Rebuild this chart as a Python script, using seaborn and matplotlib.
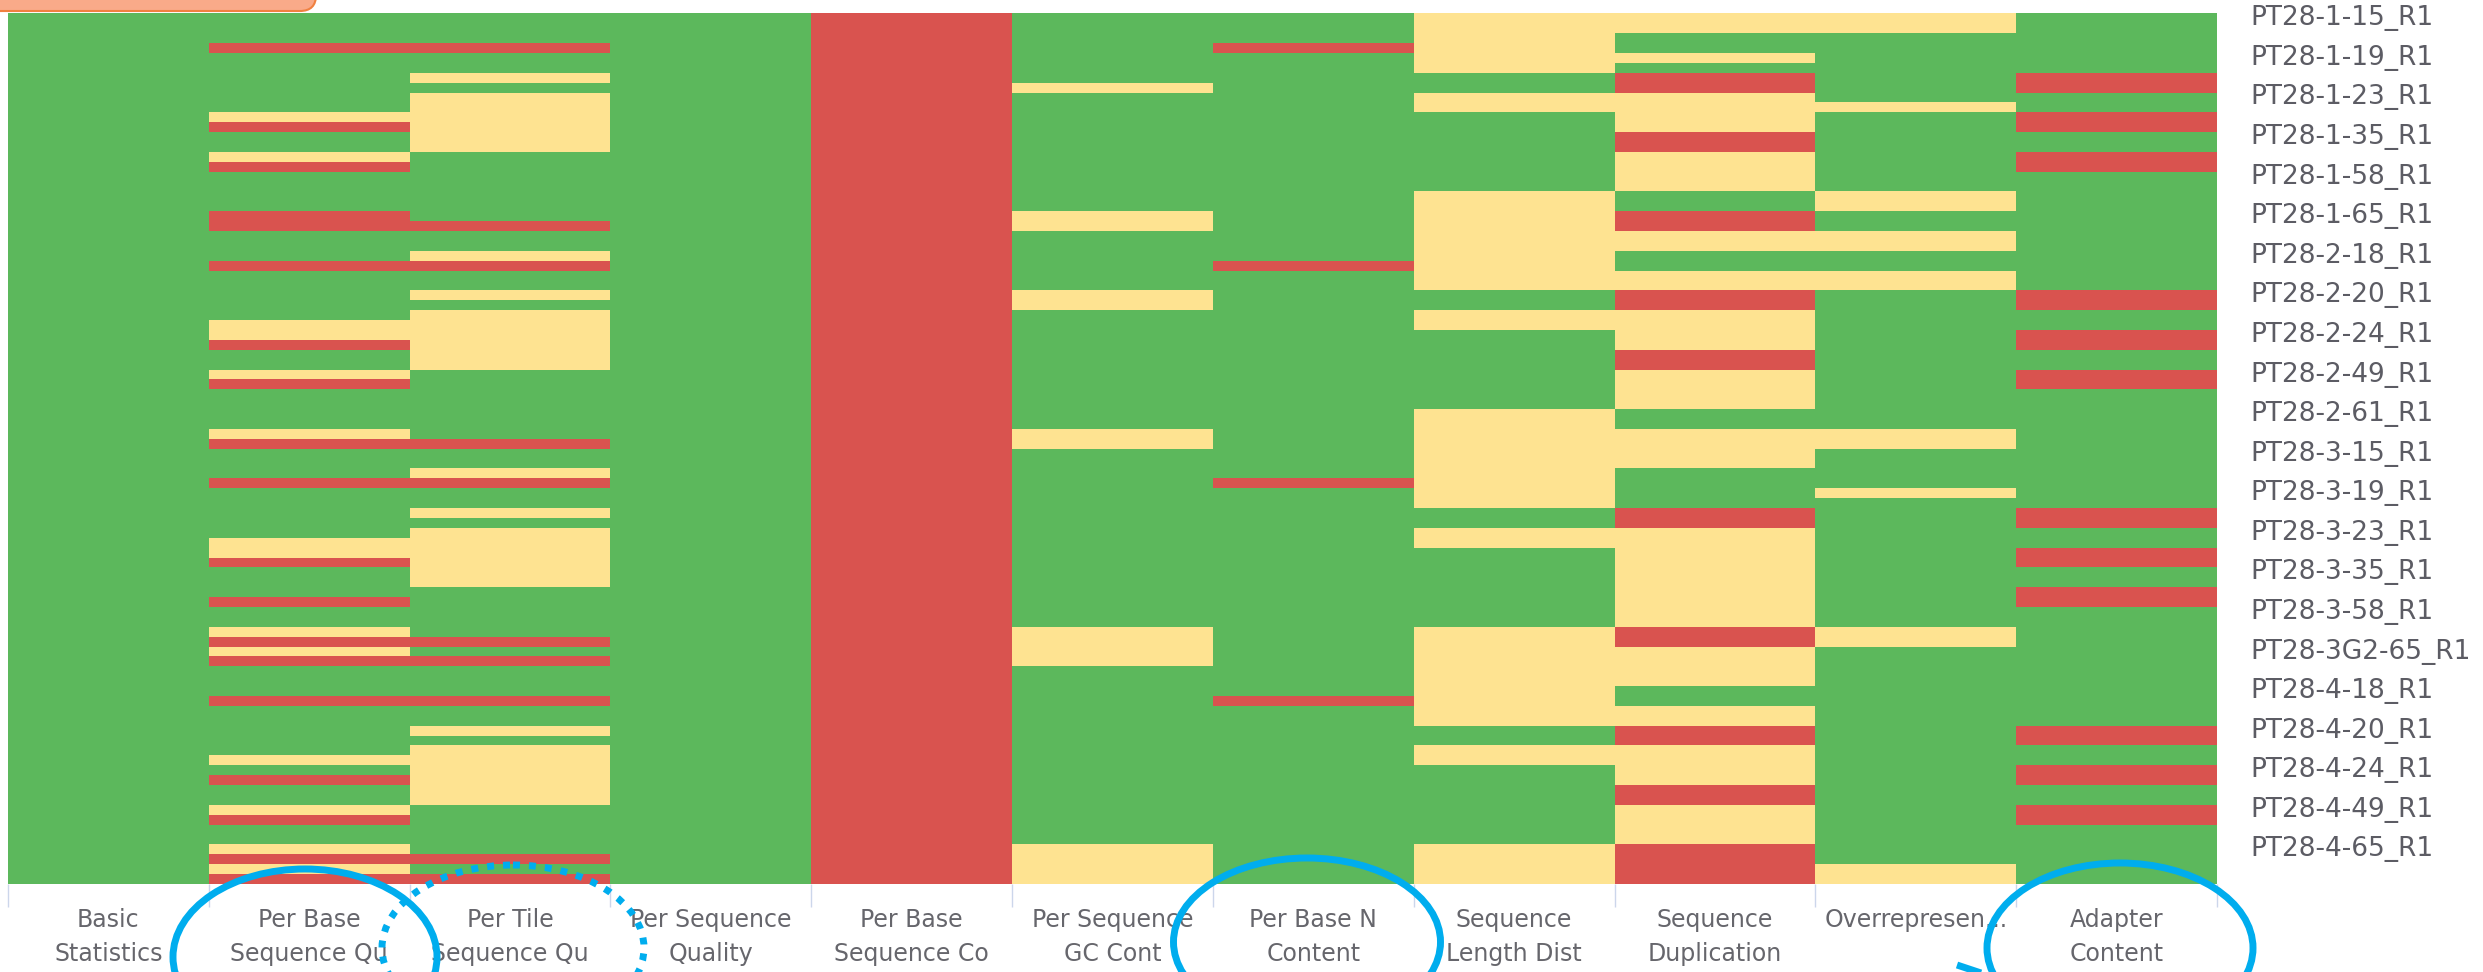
import numpy as np
import pandas as pd
import matplotlib
matplotlib.use("Agg")
import matplotlib.pyplot as plt
from matplotlib.colors import ListedColormap
from matplotlib.patches import Ellipse, FancyBboxPatch
import seaborn as sns

# FastQC module names (column headers, truncated as in the report)
modules = [
    "Basic\nStatistics", "Per Base\nSequence Qu", "Per Tile\nSequence Qu",
    "Per Sequence\nQuality", "Per Base\nSequence Co", "Per Sequence\nGC Cont",
    "Per Base N\nContent", "Sequence\nLength Dist", "Sequence\nDuplication",
    "Overrepresen...", "Adapter\nContent",
]

# Sample names shown on the right (one label every fourth row)
sample_labels = [
    "PT28-1-15_R1", "PT28-1-19_R1", "PT28-1-23_R1", "PT28-1-35_R1",
    "PT28-1-58_R1", "PT28-1-65_R1", "PT28-2-18_R1", "PT28-2-20_R1",
    "PT28-2-24_R1", "PT28-2-49_R1", "PT28-2-61_R1", "PT28-3-15_R1",
    "PT28-3-19_R1", "PT28-3-23_R1", "PT28-3-35_R1", "PT28-3-58_R1",
    "PT28-3G2-65_R1", "PT28-4-18_R1", "PT28-4-20_R1", "PT28-4-24_R1",
    "PT28-4-49_R1", "PT28-4-65_R1",
]
n_rows = 88
label_step = 4

# Status of each module for most samples
default_status = ["pass", "pass", "pass", "pass", "fail", "pass",
                  "pass", "pass", "pass", "pass", "pass"]

# Rows that deviate from the default, per module
per_base_qual_warn = [10, 14, 31, 32, 36, 42, 53, 54, 62, 64, 75, 80, 84, 86]
per_base_qual_fail = [3, 11, 15, 20, 21, 25, 33, 37, 43, 47, 55, 59, 63, 65,
                      69, 77, 81, 85, 87]
per_tile_warn = [6, 8, 9, 10, 11, 12, 13, 24, 28, 30, 31, 32, 33, 34, 35, 46,
                 50, 52, 53, 54, 55, 56, 57, 72, 74, 75, 76, 77, 78, 79]
per_tile_fail = [3, 21, 25, 43, 47, 63, 65, 69, 85, 87]
gc_content_warn = [7, 20, 21, 28, 29, 42, 43, 62, 63, 64, 65, 84, 85, 86, 87]
n_content_fail = [3, 25, 47, 69]
length_dist_warn = [0, 1, 2, 3, 4, 5, 8, 9, 18, 19, 20, 21, 22, 23, 24, 25,
                    26, 27, 30, 31, 40, 41, 42, 43, 44, 45, 46, 47, 48, 49,
                    52, 53, 62, 63, 64, 65, 66, 67, 68, 69, 70, 71, 74, 75,
                    84, 85, 86, 87]
duplication_warn = [0, 1, 4, 8, 9, 10, 11, 14, 15, 16, 17, 22, 23, 26, 27,
                    30, 31, 32, 33, 36, 37, 38, 39, 42, 43, 44, 45, 52, 53,
                    54, 55, 56, 57, 58, 59, 60, 61, 64, 65, 66, 67, 70, 71,
                    74, 75, 76, 77, 80, 81, 82, 83]
duplication_fail = [6, 7, 12, 13, 20, 21, 28, 29, 34, 35, 50, 51, 62, 63,
                    72, 73, 78, 79, 84, 85, 86, 87]
overrep_warn = [0, 1, 9, 18, 19, 22, 23, 26, 27, 42, 43, 48, 62, 63, 86, 87]
adapter_fail = [6, 7, 10, 11, 14, 15, 28, 29, 32, 33, 36, 37, 50, 51, 54, 55,
                58, 59, 72, 73, 76, 77, 80, 81]

exceptions = {
    1: (per_base_qual_warn, per_base_qual_fail),
    2: (per_tile_warn, per_tile_fail),
    5: (gc_content_warn, []),
    6: ([], n_content_fail),
    7: (length_dist_warn, []),
    8: (duplication_warn, duplication_fail),
    9: (overrep_warn, []),
    10: ([], adapter_fail),
}

code = {"fail": 0, "warn": 1, "pass": 2}
status = np.zeros((n_rows, len(modules)))
for j, d in enumerate(default_status):
    status[:, j] = code[d]
    if j in exceptions:
        warn, fail = exceptions[j]
        status[warn, j] = code["warn"]
        status[fail, j] = code["fail"]

df = pd.DataFrame(status, columns=modules)

W, H, DPI = 2483, 972, 100
fig = plt.figure(figsize=(W / DPI, H / DPI), dpi=DPI)
fig.patch.set_facecolor("white")

left, right, top, bottom = 8, 2217, 13.4, 884
ax = fig.add_axes([left / W, 1 - bottom / H, (right - left) / W, (bottom - top) / H])

cmap = ListedColormap(["#d9534f", "#fee391", "#5cb85c"])
sns.heatmap(df, ax=ax, cmap=cmap, vmin=-0.5, vmax=2.5, cbar=False,
            xticklabels=modules, yticklabels=False, linewidths=0)

# y labels on the right, one every fourth sample row
ax.set_yticks(np.arange(0, n_rows, label_step) + 0.5)
ax.set_yticklabels(sample_labels)
ax.yaxis.tick_right()
ax.tick_params(axis="y", which="both", left=False, right=True, length=0,
               pad=24, labelsize=19, labelcolor="#5c5c64")
for t in ax.get_yticklabels():
    t.set_rotation(0)
    t.set_va("center")
    t.set_ha("left")

# x labels centred under each column, boundary ticks between columns
ax.set_xticks(np.arange(len(modules)) + 0.5)
ax.set_xticklabels(modules, rotation=0, ha="center", va="top",
                   fontsize=17, color="#66666c", linespacing=1.5)
ax.set_xticks(np.arange(len(modules) + 1), minor=True)
ax.tick_params(axis="x", which="major", length=0, pad=17.5)
ax.tick_params(axis="x", which="minor", length=16.5, width=1.0,
               color="#ccd6eb", bottom=True)
ax.set_xlabel("")
ax.set_ylabel("")

# highlight overlay in figure pixel coordinates
ov = fig.add_axes([0, 0, 1, 1], facecolor="none")
ov.set_xlim(0, W)
ov.set_ylim(H, 0)
ov.axis("off")

blue = "#00adee"
for (cx, cy, w, h) in [(305, 957, 264, 176), (1307, 942, 267, 168),
                       (2120, 948, 266, 170)]:
    ov.add_patch(Ellipse((cx, cy), w, h, fill=False, edgecolor=blue,
                         linewidth=5.0))
ov.add_patch(Ellipse((513, 948), 262, 166, fill=False, edgecolor=blue,
                     linewidth=5.0, linestyle=(0, (1, 1.3))))
ov.plot([1957, 1984], [965, 974], color=blue, linewidth=5.0,
        solid_capstyle="butt")

ov.add_patch(FancyBboxPatch((-40, -40), 356, 51,
                            boxstyle="round,pad=0,rounding_size=16",
                            facecolor="#f9aa89", edgecolor="#f08040",
                            linewidth=1.5))

fig.savefig("out.png", dpi=DPI, facecolor="white")
